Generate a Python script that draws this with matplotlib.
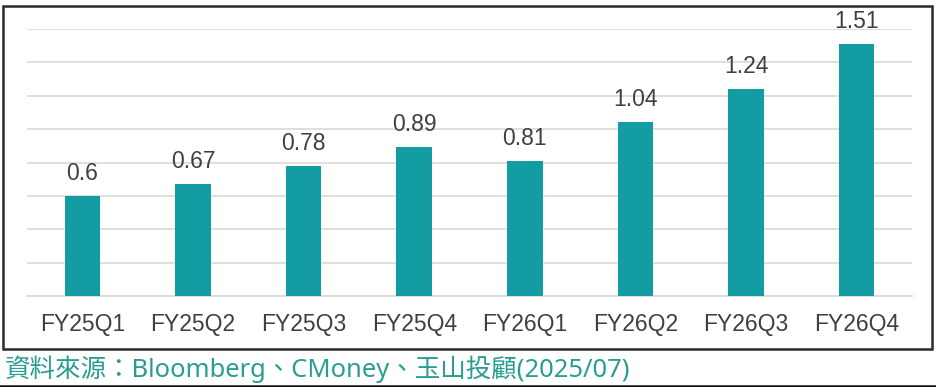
import matplotlib.pyplot as plt
from matplotlib.patches import Rectangle
from matplotlib.lines import Line2D

quarters = ['FY25Q1', 'FY25Q2', 'FY25Q3', 'FY25Q4', 'FY26Q1', 'FY26Q2', 'FY26Q3', 'FY26Q4']
values = [0.6, 0.67, 0.78, 0.89, 0.81, 1.04, 1.24, 1.51]
source = '資料來源：Bloomberg、CMoney、玉山投顧(2025/07)'

BAR_COLOR = '#139CA1'
TEXT_COLOR = '#404040'
SOURCE_COLOR = '#2A9D93'

plt.rcParams['font.family'] = ['Liberation Sans', 'Noto Sans CJK TC', 'DejaVu Sans']

fig = plt.figure(figsize=(9.36, 3.87), dpi=100)
W, H = 936, 387

# outer frame
frame = Rectangle((3 / W, 1 - 349 / H), 929 / W, 343 / H, transform=fig.transFigure,
                  fill=False, edgecolor='#2b2b2b', linewidth=1.8)
fig.patches.append(frame)
# dark rule at the very bottom
fig.lines.append(Line2D([0, 1], [1 - 385.5 / H] * 2, transform=fig.transFigure,
                        color='#111111', linewidth=1.8))

ax = fig.add_axes([27 / W, 1 - 296 / H, 885 / W, 267 / H])
x = range(len(quarters))
bars = ax.bar(x, values, width=0.32, color=BAR_COLOR, zorder=3)
for b, v in zip(bars, values):
    ax.annotate(f'{v:g}', (b.get_x() + b.get_width() / 2, v), xytext=(0, 8),
                textcoords='offset points', ha='center', va='bottom',
                fontsize=16.5, color=TEXT_COLOR)

ax.set_xlim(-0.5, len(quarters) - 0.5)
ax.set_ylim(0, 1.6)
ax.set_yticks([i * 0.2 for i in range(9)])
ax.set_yticklabels([])
ax.tick_params(axis='y', length=0)
ax.grid(axis='y', color='#d9d9d9', linewidth=1.2, zorder=0)
ax.set_xticks(list(x))
ax.set_xticklabels(quarters, fontsize=16.5, color=TEXT_COLOR)
ax.tick_params(axis='x', length=0, pad=12)
for s in ['top', 'right', 'left']:
    ax.spines[s].set_visible(False)
ax.spines['bottom'].set_color('#d9d9d9')
ax.spines['bottom'].set_linewidth(1.2)

fig.text(5 / W, 1 - 369.5 / H, source, fontsize=18.4, color=SOURCE_COLOR, va='center', ha='left',
         family=['Noto Sans', 'Noto Sans CJK TC'])

fig.savefig('out.png', dpi=100)
